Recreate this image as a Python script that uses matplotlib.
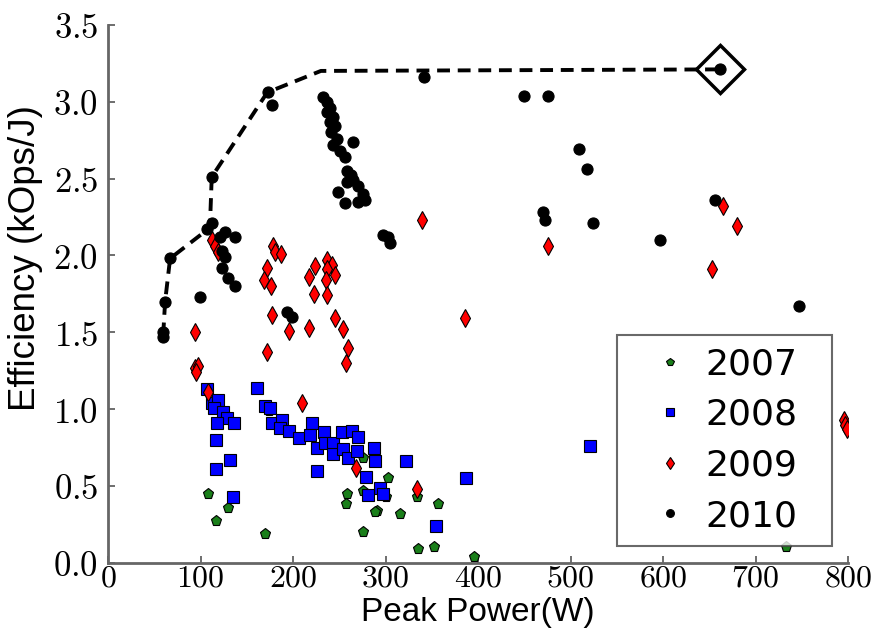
import numpy as np
import matplotlib
matplotlib.use("Agg")
import matplotlib.pyplot as plt
from matplotlib.ticker import FuncFormatter

plt.rcParams['mathtext.fontset'] = 'cm'

# 2007 (green)
x2007 = [108, 130, 117, 174, 170, 275, 258, 257, 276, 302, 300, 291, 275, 315, 334, 357, 335, 352, 395, 733, 289]
y2007 = [0.45, 0.36, 0.27, 0.99, 0.19, 0.68, 0.45, 0.38, 0.47, 0.55, 0.43, 0.34, 0.20, 0.32, 0.43, 0.38, 0.09, 0.10, 0.04, 0.10, 0.33]

# 2008 (blue)
x2008 = [107, 112, 119, 114, 124, 129, 118, 136, 117, 132, 117, 135,
         161, 170, 175, 177, 188, 186, 196, 206, 220, 218, 226, 226, 233, 234, 243, 243,
         253, 264, 270, 254, 259, 269, 287, 288, 279, 294, 297, 281, 322, 354, 387, 521]
y2008 = [1.13, 1.04, 1.06, 1.01, 0.98, 0.94, 0.91, 0.91, 0.80, 0.67, 0.61, 0.43,
         1.14, 1.02, 1.01, 0.91, 0.93, 0.88, 0.86, 0.81, 0.91, 0.83, 0.75, 0.60, 0.85, 0.78, 0.78, 0.71,
         0.85, 0.86, 0.82, 0.74, 0.68, 0.73, 0.75, 0.66, 0.56, 0.49, 0.45, 0.44, 0.66, 0.24, 0.55, 0.76]

# 2009 (red)
x2009 = [112, 116, 119, 94, 94, 97, 95, 108,
         177, 172, 196, 210, 217, 245, 254, 259, 257, 268,
         178, 180, 187, 172, 168, 176,
         224, 217, 237, 242, 237, 245, 236, 223, 237,
         339, 475, 386, 665, 680, 653, 795, 797, 799, 334]
y2009 = [2.10, 2.06, 2.02, 1.50, 1.27, 1.28, 1.24, 1.11,
         1.61, 1.37, 1.51, 1.04, 1.53, 1.59, 1.52, 1.40, 1.30, 0.62,
         2.06, 2.02, 2.01, 1.92, 1.84, 1.80,
         1.93, 1.86, 1.97, 1.94, 1.91, 1.87, 1.84, 1.75, 1.74,
         2.23, 2.06, 1.59, 2.32, 2.19, 1.91, 0.93, 0.90, 0.87, 0.48]

# 2010 (black)
x2010 = [59.5, 59.5, 61.6, 67, 99.5,
         107, 112, 112, 121, 126, 137, 123, 126, 123, 130, 137,
         173, 177,
         232, 237, 240, 237, 243, 240, 245, 241, 247, 243, 265, 251, 256, 258, 262, 265,
         270, 258, 249, 275, 278, 270, 256, 297, 302, 305,
         193, 199,
         341, 449, 475, 509, 518, 470, 472, 524, 597, 656, 747, 661]
y2010 = [1.50, 1.47, 1.70, 1.98, 1.73,
         2.17, 2.21, 2.51, 2.12, 2.15, 2.12, 2.03, 1.99, 1.92, 1.85, 1.80,
         3.06, 2.98,
         3.03, 3.00, 2.96, 2.93, 2.90, 2.87, 2.84, 2.80, 2.76, 2.72, 2.74, 2.68, 2.64, 2.55, 2.52, 2.49,
         2.45, 2.48, 2.41, 2.40, 2.36, 2.35, 2.34, 2.13, 2.12, 2.08,
         1.63, 1.60,
         3.16, 3.04, 3.04, 2.69, 2.56, 2.28, 2.23, 2.21, 2.10, 2.36, 1.67, 3.21]

# efficiency envelope
env_x = [59.5, 61.6, 67, 110, 112, 172, 230, 661]
env_y = [1.48, 1.70, 1.98, 2.18, 2.51, 3.06, 3.20, 3.21]
best_x, best_y = 661, 3.21

fig = plt.figure(figsize=(8.79, 6.36), dpi=100)
ax = fig.add_axes([0.123, 0.115, 0.842, 0.846])

ax.plot(env_x, env_y, color='black', lw=2.8, dashes=(3.3, 2.0), zorder=2)

ax.plot(x2007, y2007, 'p', color='#1a7f1a', mec='black', mew=0.8, ms=8, label='2007', zorder=3)
ax.plot(x2008, y2008, 's', color='#0000ff', mec='black', mew=0.8, ms=9, label='2008', zorder=3)
ax.plot(x2009, y2009, 'd', color='#ff0000', mec='black', mew=0.8, ms=9, label='2009', zorder=3)
ax.plot(x2010, y2010, 'o', color='black', mec='black', mew=0.8, ms=8, label='2010', zorder=3)

ax.plot([best_x], [best_y], 'D', mfc='none', mec='black', mew=2.5, ms=24, zorder=4)

ax.set_xlim(0, 800)
ax.set_ylim(0, 3.5)
ax.set_xticks(np.arange(0, 801, 100))
ax.set_yticks(np.arange(0, 3.51, 0.5))
ax.xaxis.set_major_formatter(FuncFormatter(lambda v, p: r'$%d$' % v))
ax.yaxis.set_major_formatter(FuncFormatter(lambda v, p: r'$%.1f$' % v))
ax.tick_params(direction='in', length=5, width=1.2, color='#555555', labelsize=25)
ax.tick_params(axis='x', pad=0, labelsize=23)
ax.tick_params(axis='y', pad=7)

ax.spines['top'].set_visible(False)
ax.spines['right'].set_visible(False)
for s in ['left', 'bottom']:
    ax.spines[s].set_color('#666666')
    ax.spines[s].set_linewidth(2)

ax.set_xlabel('Peak Power(W)', fontsize=24, family='Liberation Sans')
ax.set_ylabel('Efficiency (kOps/J)', fontsize=26.5, family='Liberation Sans')
ax.xaxis.set_label_coords(0.5, -0.064)
ax.yaxis.set_label_coords(-0.088, 0.567)

leg = ax.legend(loc='lower left', bbox_to_anchor=(0.688, 0.032, 0.29, 0.396), mode='expand',
                numpoints=1, fancybox=False, markerscale=0.7,
                handlelength=2.2, handletextpad=-0.1, labelspacing=0.46,
                borderpad=0.35, borderaxespad=0, prop={'family': 'DejaVu Sans', 'size': 26})
leg.get_frame().set_edgecolor('#444444')
leg.get_frame().set_linewidth(1.5)
leg.set_zorder(5)

plt.savefig('out.png', dpi=100)
